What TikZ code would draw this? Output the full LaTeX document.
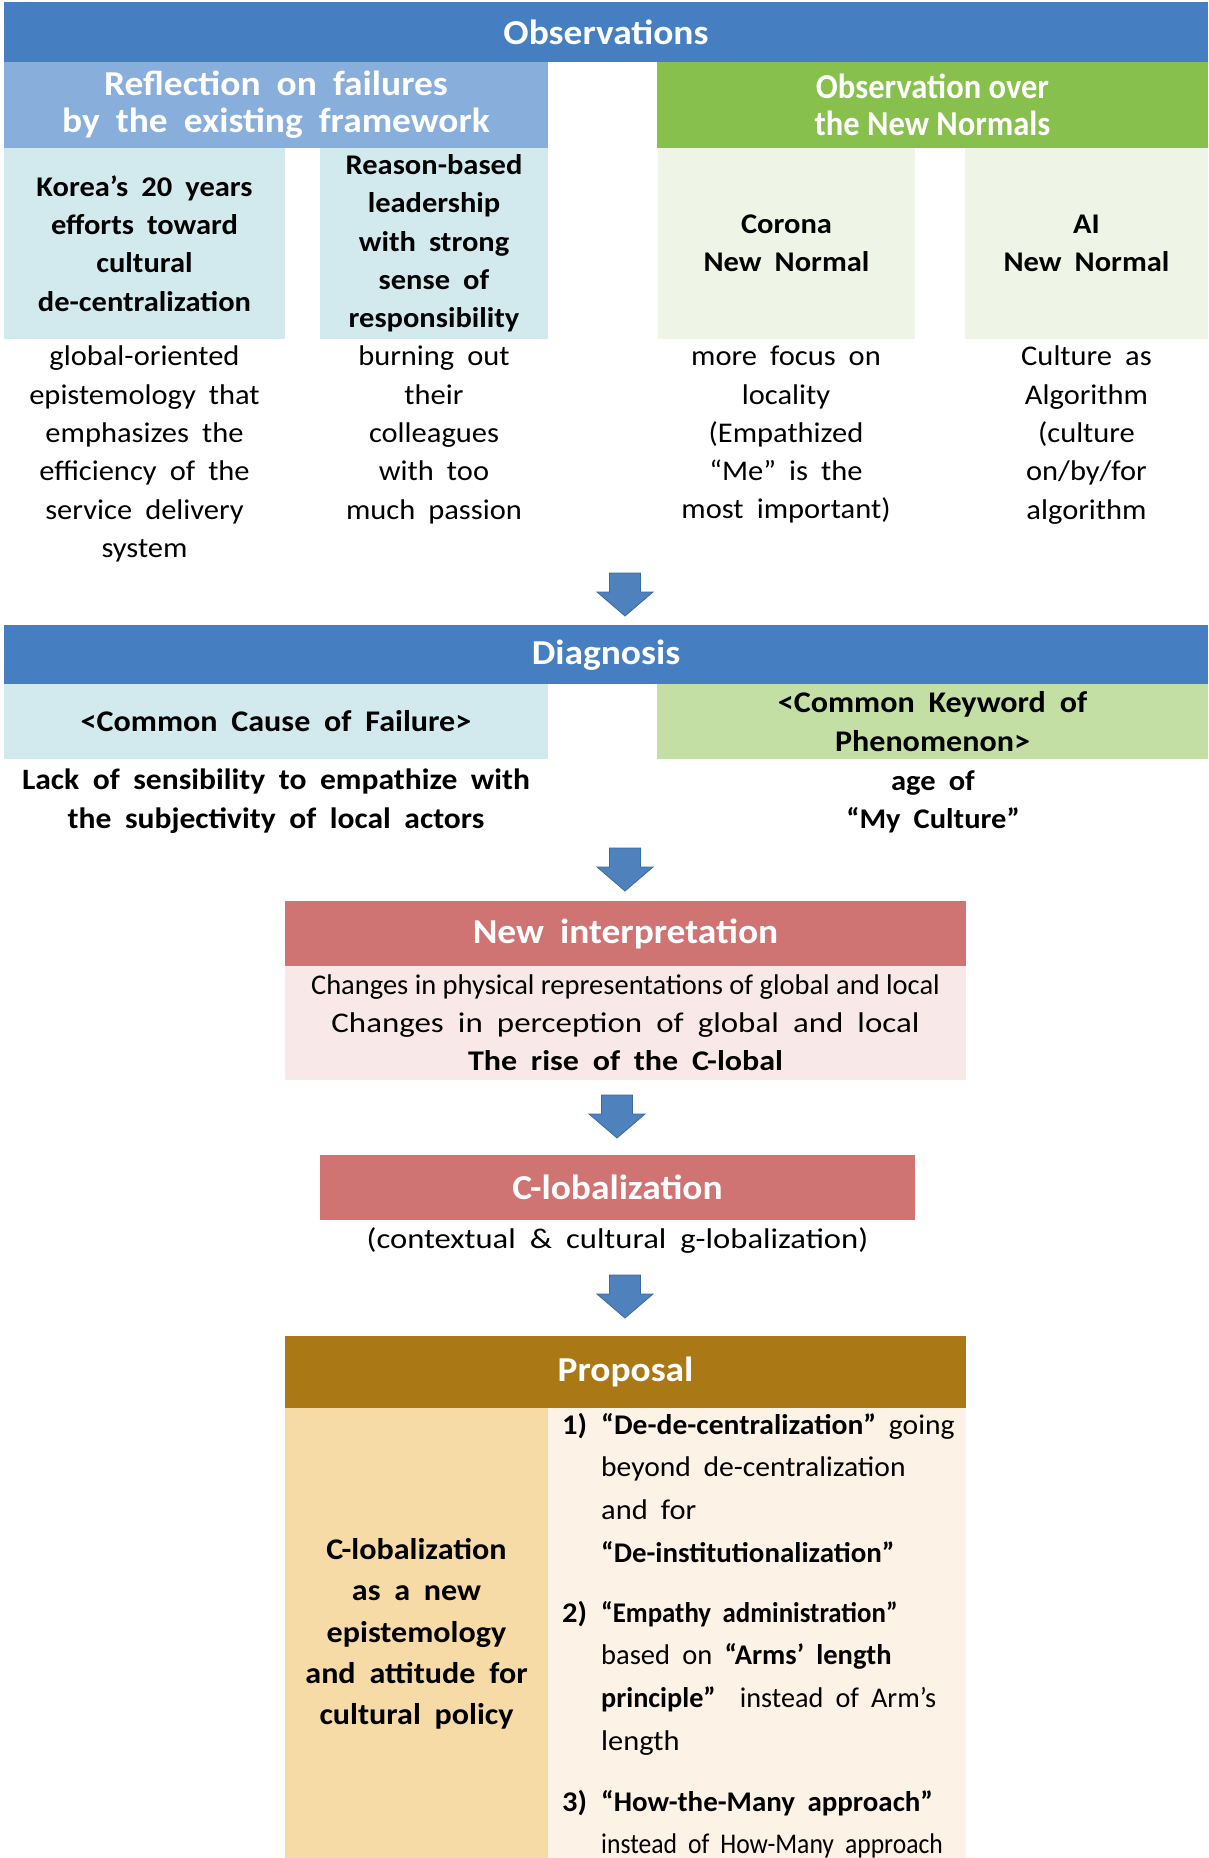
\documentclass[tikz,border=0pt]{standalone}
\usepackage{graphicx}
\usepackage{fontspec}
\setmainfont{Carlito}[WordSpace={1.9,1,1}, FakeStretch=1.07]
\newfontfamily\plainspaced{Carlito}[FakeStretch=1.0]
\newfontfamily\narrowtitle{Carlito}[FakeStretch=0.93]
\usetikzlibrary{positioning}

\definecolor{obsblue}{HTML}{467FC1}
\definecolor{hdrblue}{HTML}{88AEDC}
\definecolor{cellblue}{HTML}{D2EAEE}
\definecolor{hdrgreen}{HTML}{88C04E}
\definecolor{cellgreen}{HTML}{EEF4E6}
\definecolor{keygreen}{HTML}{C4DFA4}
\definecolor{redhdr}{HTML}{D07373}
\definecolor{pinkbody}{HTML}{F8E8E8}
\definecolor{goldhdr}{HTML}{AA7916}
\definecolor{tanbody}{HTML}{F6DBA7}
\definecolor{creambody}{HTML}{FCF2E5}
\definecolor{arrowfill}{HTML}{4F81BD}
\definecolor{arrowline}{HTML}{3B6A9F}

\newcommand{\bodyfont}{\fontsize{28.5}{38.3}\selectfont}
\newcommand{\titlefont}{\fontsize{35}{38}\selectfont\bfseries}
% horizontal squeeze / widening of a single line
\newcommand{\hsc}[2]{\scalebox{#1}[1]{#2}}
\newcommand{\ind}{\hspace*{39pt}}

\tikzset{
  x=1pt, y=-1pt,
  panel/.style={draw=none, inner sep=0pt, outer sep=0pt, anchor=north west},
  titlebar/.style={panel, fill=obsblue, text=white, font=\titlefont},
  subhdr/.style={panel, text=white, font=\titlefont, align=center},
  cell/.style={panel, font=\bodyfont\bfseries, align=center},
  note/.style={inner sep=0pt, anchor=north, align=center, font=\bodyfont},
  item/.style={inner sep=0pt, anchor=north west, align=left, font=\fontsize{28.5}{42.6}\selectfont},
  pics/downarrow/.style={code={
    \filldraw[fill=arrowfill, draw=arrowline, line width=0.8pt, line join=miter]
      (-15.5,0) -- (15.5,0) -- (15.5,19) -- (28,19) -- (0,43) -- (-28,19) -- (-15.5,19) -- cycle;
  }}
}

\begin{document}
\begin{tikzpicture}
\useasboundingbox (0,0) rectangle (1208,1858);

% ---------- Observations ----------
\node[titlebar, minimum width=1204, minimum height=60] (obs) at (4,2) {Observations};

\node[subhdr, fill=hdrblue, minimum width=544, minimum height=86] (refl) at (4,62)
  {Reflection on failures\\[-1pt] by the existing framework};
\node[subhdr, fill=hdrgreen, minimum width=551, minimum height=86] (newn) at (657,62)
  {\narrowtitle Observation over\\[-1pt] \narrowtitle the New Normals};

\node[cell, fill=cellblue, minimum width=281, minimum height=191] (korea) at (4,148)
  {Korea’s 20 years\\ efforts toward\\ cultural\\ de-centralization};
\node[cell, fill=cellblue, minimum width=228, minimum height=191] (reason) at (320,148)
  {Reason-based\\ leadership\\ with strong\\ sense of\\ responsibility};
\node[cell, fill=cellgreen, minimum width=257, minimum height=191] (corona) at (658,148)
  {Corona\\ New Normal};
\node[cell, fill=cellgreen, minimum width=243, minimum height=191] (ai) at (965,148)
  {AI\\ New Normal};

\node[note] (koreatxt) at (144.5,346)
  {global-oriented\\ epistemology that\\ emphasizes the\\ efficiency of the\\ service delivery\\ system};
\node[note] (reasontxt) at (434,346)
  {burning out\\ their\\ colleagues\\ with too\\ much passion};
\node[note] (coronatxt) at (786,346)
  {more focus on\\ locality\\ (Empathized\\ “Me” is the\\ most important)};
\node[note] (aitxt) at (1086.5,346)
  {Culture as\\ Algorithm\\ (culture\\ on/by/for\\ algorithm};

\pic at (625,573) {downarrow};

% ---------- Diagnosis ----------
\node[titlebar, minimum width=1204, minimum height=59, text depth=5pt] (diag) at (4,625) {Diagnosis};

\node[cell, fill=cellblue, minimum width=544, minimum height=75, font=\fontsize{30}{38.3}\selectfont\bfseries] (cause) at (4,684)
  {<Common Cause of Failure>};
\node[cell, fill=keygreen, minimum width=551, minimum height=75, font=\fontsize{30}{38.3}\selectfont\bfseries] (keyword) at (657,684)
  {<Common Keyword of\\ Phenomenon>};

\node[note, font=\fontsize{29.5}{38.3}\selectfont\bfseries] (causetxt) at (276,769)
  {Lack of sensibility to empathize with\\ the subjectivity of local actors};
\node[note, font=\bodyfont\bfseries] (keytxt) at (933,770)
  {age of\\ “My Culture”};

\pic at (625,848) {downarrow};

% ---------- New interpretation ----------
\node[subhdr, fill=redhdr, minimum width=681, minimum height=65] (interp) at (285,901)
  {New interpretation};
\node[panel, fill=pinkbody, minimum width=681, minimum height=114] (interpbody) at (285,966) {};
\node[note] (interptxt) at (625.5,974)
  {{\plainspaced Changes in physical representations of global and local}\\
   \hsc{1.08}{Changes in perception of global and local}\\
   \hsc{1.05}{\textbf{The rise of the C-lobal}}};

\pic at (617,1095) {downarrow};

% ---------- C-lobalization ----------
\node[subhdr, fill=redhdr, minimum width=595, minimum height=65] (clob) at (320,1155)
  {C-lobalization};
\node[note] (clobtxt) at (617.5,1227)
  {\hsc{1.07}{(contextual \& cultural g-lobalization)}};

\pic at (625,1275) {downarrow};

% ---------- Proposal ----------
\node[subhdr, fill=goldhdr, minimum width=681, minimum height=72] (prop) at (285,1336)
  {Proposal};
\node[panel, fill=tanbody, minimum width=263, minimum height=450] (propleft) at (285,1408) {};
\node[panel, fill=creambody, minimum width=418, minimum height=450] (propright) at (548,1408) {};

\node[inner sep=0pt, align=center, font=\fontsize{30}{41.3}\selectfont\bfseries] (proplefttxt)
  at (416.5,1634)
  {C-lobalization\\ as a new\\ epistemology\\ and attitude for\\ cultural policy};

\node[item] (item1) at (562,1413)
  {\makebox[39pt][l]{\bfseries 1)}\hsc{0.97}{\textbf{“De-de-centralization”} going}\\
   \ind\hsc{0.97}{beyond de-centralization}\\
   \ind and for\\
   \ind\hsc{0.95}{\textbf{“De-institutionalization”}}};
\node[item] (item2) at (562,1601)
  {\makebox[39pt][l]{\bfseries 2)}\hsc{0.88}{\textbf{“Empathy administration”}}\\
   \ind\hsc{0.935}{based on \textbf{“Arms’ length}}\\
   \ind\hsc{0.925}{\textbf{principle”}\ \ instead of Arm’s}\\
   \ind length};
\node[item] (item3) at (562,1790)
  {\makebox[39pt][l]{\bfseries 3)}\hsc{0.95}{\textbf{“How-the-Many approach”}}\\
   \ind\hsc{0.84}{instead of How-Many approach}};
\end{tikzpicture}
\end{document}
